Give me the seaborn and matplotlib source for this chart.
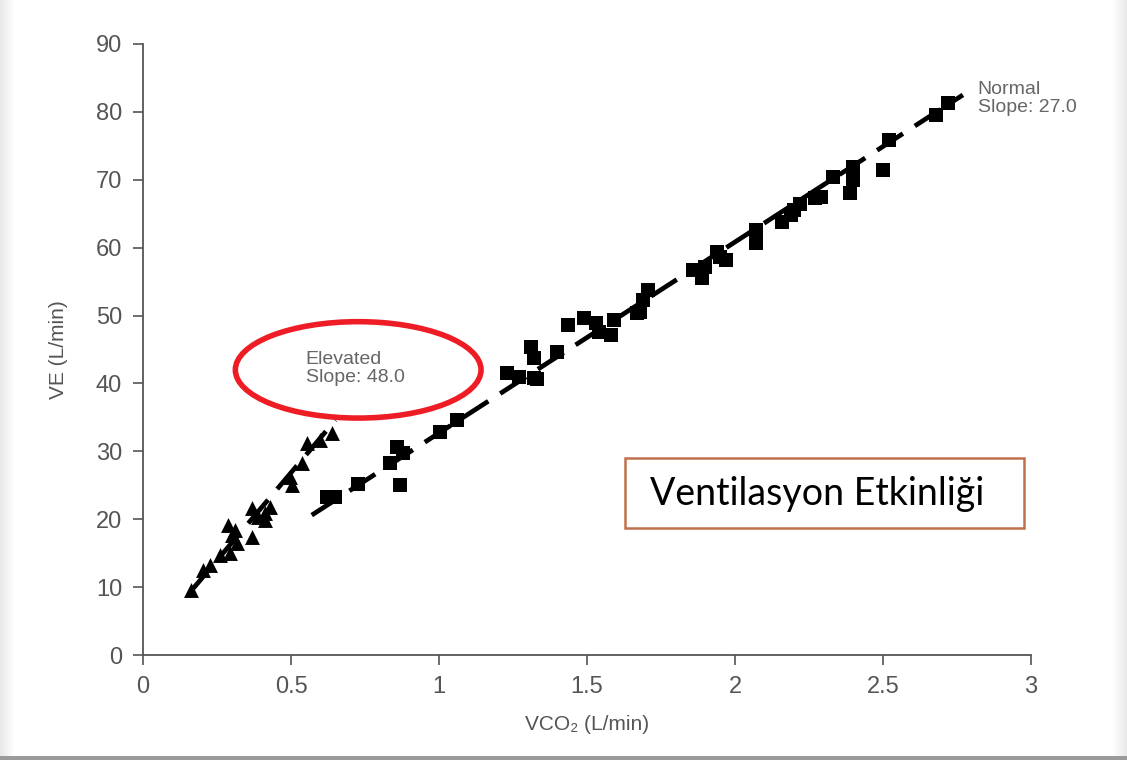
import matplotlib
matplotlib.use("Agg")
import matplotlib.pyplot as plt
from matplotlib.patches import Ellipse, Rectangle
import seaborn as sns
import pandas as pd

# ---- data ----
elev_x = [0.162, 0.203, 0.226, 0.26, 0.294, 0.287, 0.30, 0.318, 0.311, 0.368, 0.368,
          0.389, 0.412, 0.429, 0.412, 0.503, 0.497, 0.537, 0.554, 0.598, 0.639]
elev_y = [9.6, 12.5, 13.3, 14.7, 15.0, 19.1, 17.7, 16.5, 18.4, 17.4, 21.6,
          20.3, 19.9, 21.8, 20.9, 25.0, 26.2, 28.3, 31.2, 31.7, 32.7]

norm_x = [0.62, 0.65, 0.726, 0.834, 0.858, 0.878, 0.868, 1.003, 1.06,
          1.23, 1.27, 1.32, 1.31, 1.32, 1.33, 1.40, 1.436, 1.49, 1.53, 1.54, 1.58, 1.59,
          1.67, 1.68, 1.69, 1.706, 1.858, 1.89, 1.90, 1.95, 1.97, 1.94,
          2.07, 2.07, 2.16, 2.19, 2.22, 2.20, 2.27, 2.29, 2.33, 2.39, 2.40, 2.40,
          2.50, 2.52, 2.68, 2.72]
norm_y = [23.3, 23.2, 25.2, 28.3, 30.6, 29.7, 25.0, 32.8, 34.6,
          41.5, 41.0, 40.8, 45.4, 43.7, 40.6, 44.6, 48.6, 49.6, 48.9, 47.6, 47.1, 49.3,
          50.4, 50.5, 52.3, 53.8, 56.7, 55.5, 57.1, 58.6, 58.2, 59.4,
          60.7, 62.6, 63.8, 64.8, 66.5, 65.5, 67.3, 67.5, 70.4, 68.0, 70.0, 71.9,
          71.4, 75.8, 79.5, 81.3]

elev_line_x = [0.16, 0.65]
elev_line_y = [9.3, 34.6]
norm_line_x = [0.57, 2.77]
norm_line_y = [20.6, 82.5]

x_ticks = [0, 0.5, 1, 1.5, 2, 2.5, 3]
x_ticklabels = ["0", "0.5", "1", "1.5", "2", "2.5", "3"]
y_ticks = [0, 10, 20, 30, 40, 50, 60, 70, 80, 90]

sns.set_theme(style="white")
narrow = ["Liberation Sans", "DejaVu Sans"]
plt.rcParams["font.family"] = narrow

fig = plt.figure(figsize=(11.27, 7.6), dpi=100)
fig.patch.set_facecolor("white")

# slide shadow edges
for i in range(14):
    a = 0.09 * (14 - i) / 14
    fig.add_artist(Rectangle((i / 1127, 0), 1 / 1127, 1, transform=fig.transFigure,
                             color="black", alpha=a, lw=0))
    fig.add_artist(Rectangle((1 - (i + 1) / 1127, 0), 1 / 1127, 1, transform=fig.transFigure,
                             color="black", alpha=a, lw=0))
fig.add_artist(Rectangle((0, 0), 1, 4 / 760, transform=fig.transFigure,
                         color="#9a9a9a", lw=0))

ax = fig.add_axes([143 / 1127, 1 - 655 / 760, (1031 - 143) / 1127, (655 - 44) / 760])
ax.set_facecolor("none")

df_e = pd.DataFrame({"x": elev_x, "y": elev_y})
df_n = pd.DataFrame({"x": norm_x, "y": norm_y})
df_el = pd.DataFrame({"x": elev_line_x, "y": elev_line_y})
df_nl = pd.DataFrame({"x": norm_line_x, "y": norm_line_y})

sns.lineplot(data=df_el, x="x", y="y", ax=ax, color="black", lw=3.4, zorder=2)
ax.lines[-1].set_dashes((6.5, 3))
sns.lineplot(data=df_nl, x="x", y="y", ax=ax, color="black", lw=3.4, zorder=2)
ax.lines[-1].set_dashes((6.5, 3))
sns.scatterplot(data=df_e, x="x", y="y", ax=ax, marker="^", s=115, color="black",
                edgecolor="black", linewidth=0, zorder=3)
sns.scatterplot(data=df_n, x="x", y="y", ax=ax, marker="s", s=88, color="black",
                edgecolor="black", linewidth=0, zorder=3)

ax.set_xlim(0, 3)
ax.set_ylim(0, 90)
ax.set_xticks(x_ticks)
ax.set_xticklabels(x_ticklabels)
ax.set_yticks(y_ticks)
for s in ["top", "right"]:
    ax.spines[s].set_visible(False)
for s in ["left", "bottom"]:
    ax.spines[s].set_color("#555555")
    ax.spines[s].set_linewidth(1.3)
ax.tick_params(axis="both", which="major", direction="out", length=7, width=1.2,
               color="#555555", labelcolor="#555555", labelsize=17, pad=8,
               left=True, bottom=True)
ax.set_xlabel("VCO₂ (L/min)", fontsize=15, color="#555555", labelpad=12)
ax.set_ylabel("VE (L/min)", fontsize=15, color="#555555", labelpad=20)

# annotations
ax.text(0.55, 44.8, "Elevated\nSlope: 48.0", fontsize=14, color="#666666",
        va="top", ha="left", linespacing=1.05)
ax.text(2.82, 84.5, "Normal\nSlope: 27.0", fontsize=14, color="#666666",
        va="top", ha="left", linespacing=1.05)
ax.add_patch(Ellipse((0.727, 42.0), 0.83, 14.2, fill=False, edgecolor="#ee1c24",
                     lw=4, zorder=4))

# box label
fig.add_artist(Rectangle((625 / 1127, 1 - 528 / 760), 399 / 1127, 70 / 760,
                         transform=fig.transFigure, fill=False,
                         edgecolor="#c0704a", lw=1.8))
fig.text(817 / 1127, 1 - 494 / 760, "Ventilasyon Etkinliği", fontsize=27,
         ha="center", va="center", color="black", family=["Lato", "DejaVu Sans"])

fig.savefig("out.png", dpi=100)
